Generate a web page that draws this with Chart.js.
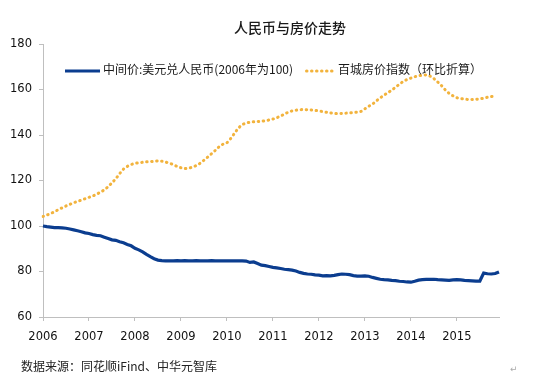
<!DOCTYPE html>
<html>
<head>
<meta charset="utf-8">
<script src="https://cdn.jsdelivr.net/npm/chart.js@4/dist/chart.umd.min.js"></script>
<style>
  html, body { margin: 0; padding: 0; background: #fff; }
  #wrap { position: relative; width: 560px; height: 377px; font-family: "Noto Sans CJK SC", "DejaVu Sans", sans-serif; }
  #chart { position: absolute; left: 0; top: 0; }
  .title { position: absolute; left: 190px; width: 200px; top: 17px; text-align: center; font-size: 14px; font-weight: 500; color: #1a1a1a; line-height: 20px; }
  .legend { position: absolute; top: 61px; font-size: 12px; color: #1a1a1a; line-height: 16px; white-space: nowrap; }
  .legend .line { display: inline-block; vertical-align: middle; margin-right: 3px; }
  .source { position: absolute; left: 21px; top: 358px; font-size: 12px; color: #222; line-height: 16px; }
  .mark { position: absolute; left: 510px; top: 362px; font-size: 9px; color: #aaa; }
</style>
</head>
<body>
<div id="wrap">
  <canvas id="chart" width="560" height="377"></canvas>
  <div class="title">人民币与房价走势</div>
  <div class="legend" style="left:65px"><svg class="line" width="35" height="6"><line x1="0" y1="3" x2="35" y2="3" stroke="#0B3D8F" stroke-width="3"/></svg>中间价:美元兑人民币(2006年为100)</div>
  <div class="legend" style="left:305px"><svg class="line" width="30" height="6"><line x1="1.5" y1="3" x2="29" y2="3" stroke="#F2B33D" stroke-width="3" stroke-linecap="round" stroke-dasharray="0.5 4.5"/></svg>百城房价指数（环比折算）</div>
  <div class="source">数据来源：同花顺iFind、中华元智库</div>
  <div class="mark">↵</div>
</div>
<script>
// yearly tick labels, one category per month
const years = [2006, 2007, 2008, 2009, 2010, 2011, 2012, 2013, 2014, 2015]
const months = []
years.forEach(y => { for (let m = 1; m <= 12; m++) months.push(y + '-' + m) })

// 中间价:美元兑人民币 (2006年为100), monthly
const rmbIndex = [
  100.0, 99.7, 99.5, 99.3, 99.3, 99.2, 99.0, 98.7, 98.3, 97.9, 97.5, 97.0,
  96.7, 96.2, 95.9, 95.7, 95.1, 94.5, 93.9, 93.7, 93.1, 92.6, 91.9, 91.3,
  90.2, 89.5, 88.6, 87.5, 86.5, 85.6, 85.0, 84.8, 84.7, 84.7, 84.7, 84.8,
  84.7, 84.8, 84.7, 84.7, 84.8, 84.7, 84.7, 84.7, 84.8, 84.7, 84.7, 84.7,
  84.7, 84.7, 84.7, 84.7, 84.7, 84.6, 84.0, 84.2, 83.5, 82.8, 82.6, 82.2,
  81.8, 81.6, 81.3, 81.0, 80.8, 80.6, 80.2, 79.6, 79.2, 78.9, 78.8, 78.5,
  78.4, 78.1, 78.2, 78.1, 78.3, 78.6, 78.9, 78.8, 78.6, 78.2, 78.0, 78.0,
  78.1, 77.9, 77.4, 77.0, 76.6, 76.4, 76.3, 76.1, 76.0, 75.7, 75.6, 75.4,
  75.3, 75.7, 76.2, 76.4, 76.5, 76.5, 76.6, 76.4, 76.3, 76.2, 76.1, 76.3,
  76.4, 76.3, 76.1, 76.0, 75.9, 75.8, 75.8, 79.3, 79.0, 78.9, 79.1, 79.8
]

// 百城房价指数 (环比折算), monthly
const houseIndex = [
  104.2, 104.8, 105.5, 106.3, 107.2, 108.0, 108.8, 109.5, 110.2, 110.8, 111.4, 112.0,
  112.6, 113.2, 114.0, 114.9, 115.9, 117.3, 119.0, 120.8, 123.0, 125.0, 126.2, 127.0,
  127.5, 127.8, 128.0, 128.2, 128.3, 128.4, 128.6, 128.5, 128.1, 127.6, 127.0, 126.2,
  125.6, 125.3, 125.4, 125.9, 126.6, 127.6, 128.9, 130.3, 131.8, 133.3, 134.9, 136.0,
  136.6, 138.5, 140.8, 143.0, 144.5, 145.3, 145.6, 145.8, 145.9, 146.0, 146.3, 146.6,
  147.0, 147.6, 148.3, 149.2, 150.0, 150.6, 150.9, 151.1, 151.2, 151.1, 151.0, 150.8,
  150.6, 150.3, 150.0, 149.7, 149.5, 149.4, 149.5, 149.6, 149.7, 149.9, 150.1, 150.4,
  151.5, 152.6, 153.6, 155.0, 156.3, 157.5, 158.6, 159.7, 161.0, 162.3, 163.5, 164.4,
  165.0, 165.6, 166.0, 166.3, 166.4, 165.9, 164.8, 163.3, 161.7, 159.8, 158.3, 157.2,
  156.4, 156.0, 155.8, 155.6, 155.6, 155.7, 155.9, 156.2, 156.6, 156.9, 157.0, null
]

const yTicks = [60, 80, 100, 120, 140, 160, 180]

const axisColor = '#BFBFBF'
const tickFont = { family: 'DejaVu Sans', size: 11.5 }

const ctx = document.getElementById('chart')
const chart = new Chart(ctx, {
  type: 'line',
  data: {
    labels: months,
    datasets: [{
      label: '中间价:美元兑人民币(2006年为100)',
      data: rmbIndex,
      borderColor: '#0B3D8F',
      borderWidth: 3.2,
      pointRadius: 0,
      tension: 0
    }, {
      label: '百城房价指数（环比折算）',
      data: houseIndex,
      borderColor: '#F2B33D',
      borderWidth: 3,
      borderDash: [0.5, 4.5],
      borderCapStyle: 'round',
      pointRadius: 0,
      tension: 0.3
    }]
  },
  options: {
    responsive: false,
    animation: false,
    layout: { padding: { top: 44, right: 61, bottom: 0, left: 0 } },
    scales: {
      x: {
        offset: false,
        grid: {
          drawOnChartArea: false,
          drawTicks: true,
          tickLength: 4,
          // only a tick mark at the start of each year
          color: c => (c.index % 12 === 0 ? axisColor : 'rgba(0,0,0,0)')
        },
        border: { display: true, color: axisColor, width: 1 },
        ticks: {
          autoSkip: false,
          maxRotation: 0,
          minRotation: 0,
          padding: 9,
          color: '#111',
          font: tickFont,
          callback: function(value, index) {
            return index % 12 === 0 ? years[index / 12] : ''
          }
        },
        afterFit: function(scale) { scale.height = 60 }
      },
      y: {
        min: 60,
        max: 180,
        afterBuildTicks: function(scale) {
          scale.ticks = yTicks.map(v => ({ value: v }))
        },
        grid: { drawOnChartArea: false, drawTicks: true, tickLength: 4, color: axisColor },
        border: { display: true, color: axisColor, width: 1 },
        ticks: { padding: 7, color: '#111', font: tickFont },
        afterFit: function(scale) { scale.width = 43 }
      }
    },
    plugins: {
      legend: { display: false },
      title: { display: false },
      tooltip: { enabled: false }
    }
  }
})
</script>
</body>
</html>
